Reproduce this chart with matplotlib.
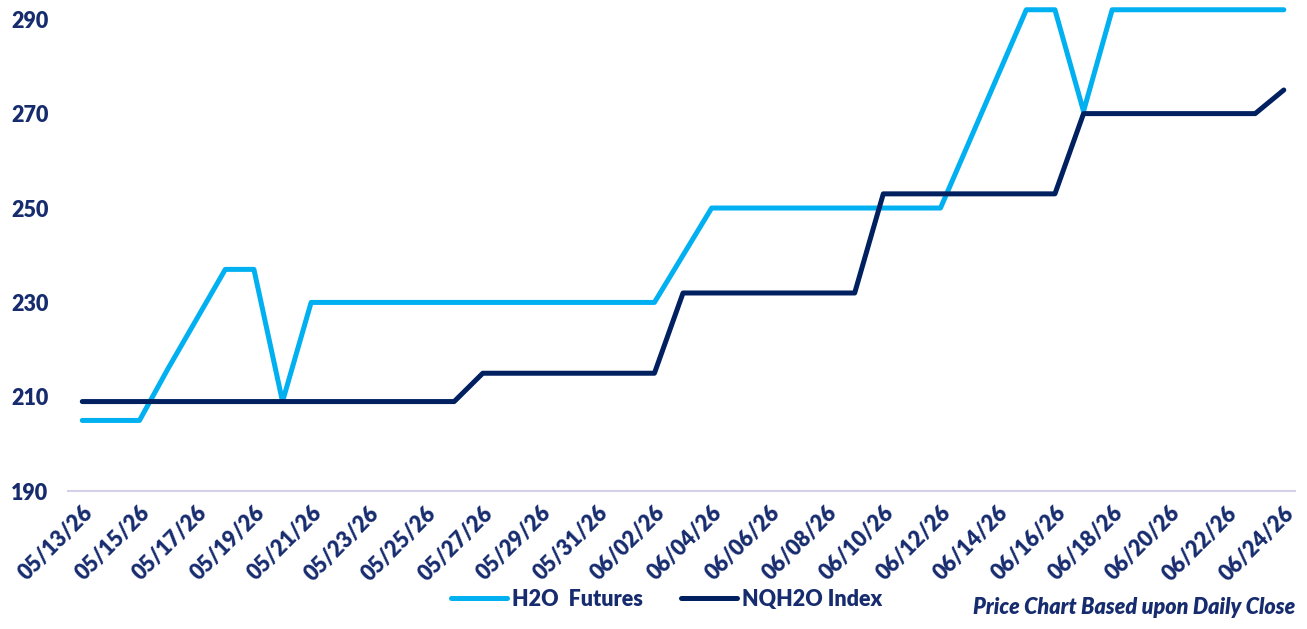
import matplotlib
matplotlib.use("Agg")
import matplotlib.pyplot as plt
import pandas as pd

# --- data ---
dates = pd.date_range("2026-05-13", "2026-06-24", freq="D")
date_labels = [d.strftime("%m/%d/%y") for d in dates]

h2o_futures = [205, 205, 205, 216, 226.5, 237, 237, 209, 230,
               230, 230, 230, 230, 230, 230, 230, 230, 230, 230, 230, 230,
               240, 250,
               250, 250, 250, 250, 250, 250, 250, 250,
               264, 278, 292, 292, 270.5,
               292, 292, 292, 292, 292, 292, 292]

nqh2o_index = [209] * 14 + [215] * 7 + [232] * 7 + [253] * 7 + [270] * 7 + [275]

y_ticks = [190, 210, 230, 250, 270, 290]

light_blue = "#00B0F0"
dark_blue = "#002060"
text_col = "#172C6E"
wt = "heavy"

plt.rcParams["font.family"] = ["Lato", "DejaVu Sans"]

fig = plt.figure(figsize=(13.07, 6.29), dpi=100)
ax = fig.add_axes([0.052, 0.219, 0.939, 0.773])

x = list(range(len(dates)))
ax.plot(x, h2o_futures, color=light_blue, lw=3.6, solid_capstyle="round",
        label="H2O  Futures")
ax.plot(x, nqh2o_index, color=dark_blue, lw=3.6, solid_capstyle="round",
        label="NQH2O Index")

ax.set_xlim(-0.5, len(dates) - 0.6)
ax.set_ylim(190, 293)
ax.set_yticks(y_ticks)
ax.set_xticks(x[::2])
ax.set_xticklabels(date_labels[::2], rotation=45, ha="right",
                   rotation_mode="anchor")

for lab in ax.get_xticklabels() + ax.get_yticklabels():
    lab.set_fontweight(wt)
    lab.set_fontsize(15.5)
    lab.set_color(text_col)

ax.tick_params(axis="both", length=0)
ax.tick_params(axis="x", pad=8)
ax.tick_params(axis="y", pad=14)
for s in ["top", "right", "left"]:
    ax.spines[s].set_visible(False)
ax.spines["bottom"].set_color("#D4D0EA")
ax.spines["bottom"].set_linewidth(1.5)

leg = fig.legend(loc="lower center", bbox_to_anchor=(0.51, 0.0), ncol=2,
                 frameon=False, handlelength=2.6, columnspacing=1.8,
                 handletextpad=0.2, prop={"weight": wt, "size": 15.5})
for t in leg.get_texts():
    t.set_color(text_col)

fig.text(0.991, 0.018, "Price Chart Based upon Daily Close", ha="right",
         va="bottom", fontsize=15.5, fontweight=wt, style="italic",
         color=text_col)

fig.savefig("out.png", dpi=100)
